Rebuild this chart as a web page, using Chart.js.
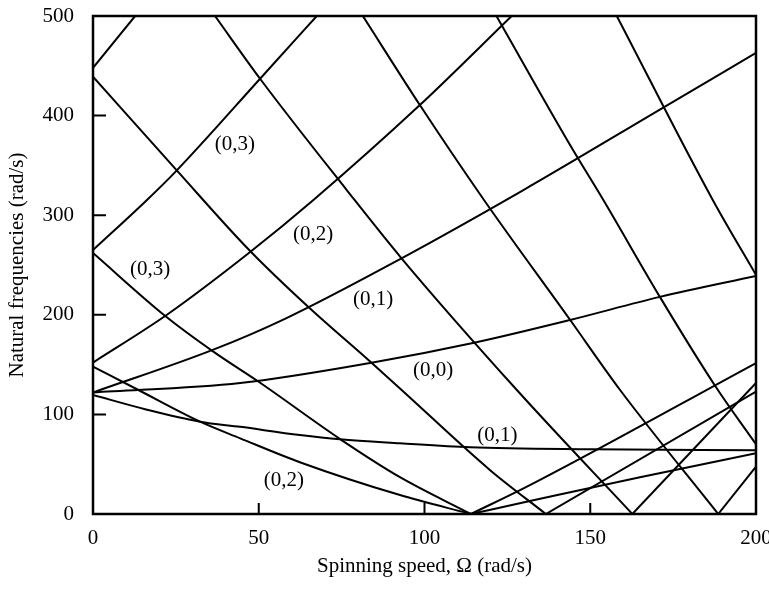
<!DOCTYPE html>
<html>
<head>
<meta charset="utf-8">
<script src="https://cdn.jsdelivr.net/npm/chart.js@4/dist/chart.umd.min.js"></script>
<style>
  html, body { margin: 0; padding: 0; background: #fff; }
  #wrap { width: 769px; height: 589px; }
</style>
</head>
<body>
<div id="wrap"><canvas id="freqChart" width="769" height="589"></canvas></div>
<script>
// Axis ticks
var xTicks = [0, 50, 100, 150, 200];
var yTicks = [0, 100, 200, 300, 400, 500];

// Forward (rising) branches
var fwd00X = [0, 44.4, 83.6, 114.6, 143.9, 171, 200];
var fwd00Y = [122, 131.5, 151.6, 171.7, 194.8, 218, 239];
var fwd01X = [0, 36.3, 57.9, 93.2, 129.7, 171, 200];
var fwd01Y = [122, 165, 196, 257, 325, 406, 463];
var fwd02X = [0, 22.3, 47.4, 66.4, 98.6, 126.3];
var fwd02Y = [152, 200, 263, 315, 410.6, 500];
var fwd03X = [0, 16.2, 25, 50.4, 67.5];
var fwd03Y = [265, 315, 344, 437, 500];
var fwd04X = [0, 12.7];
var fwd04Y = [448, 500];

// Backward (falling) branches, and their reflected part after the critical speed
var bwd01X = [0, 16, 32.3, 44.4, 62.4, 74.5, 92.6, 113.7, 150, 200];
var bwd01Y = [119.5, 105, 92.7, 87.5, 79.3, 75, 71, 67, 65, 64];
var bwd02X = [0, 13.7, 32.3, 44.4, 62.4, 92.6, 114];
var bwd02Y = [148, 124.5, 92.7, 76, 52, 19, 0];
var ref02X = [114, 131.8, 165, 200];
var ref02Y = [0, 13, 37, 61];
var bwd03X = [0, 22.1, 36.3, 50.3, 75.1, 92.6, 114];
var bwd03Y = [262, 198, 163, 132, 74, 37, 0];
var ref03X = [114, 131.8, 200];
var ref03Y = [0, 29, 151.6];
var bwd04X = [0, 25, 47.4, 64.9, 83.6, 92.6, 119.8, 136.6];
var bwd04Y = [439, 346, 264, 208, 153, 126, 44, 0];
var ref04X = [136.6, 200];
var ref04Y = [0, 122.8];
var bwd05X = [36.8, 50.4, 76.6, 93, 128, 162.7];
var bwd05Y = [500, 437, 325, 257, 124, 0];
var ref05X = [162.7, 200];
var ref05Y = [0, 131.5];
var bwd06X = [81.4, 98.6, 118, 143.9, 159, 188.6];
var bwd06Y = [500, 410.6, 315, 195, 124.5, 0];
var ref06X = [188.6, 200];
var ref06Y = [0, 47.5];
var bwd07X = [121.7, 144, 154, 171, 188, 200];
var bwd07Y = [500, 370, 315, 218, 127, 70];
var bwd08X = [158, 187, 200];
var bwd08Y = [500, 315, 240];

// Mode labels
var labelText = ['(0,3)', '(0,3)', '(0,2)', '(0,1)', '(0,0)', '(0,1)', '(0,2)'];
var labelX = [42.8, 17.2, 66.4, 84.5, 102.6, 122, 57.6];
var labelY = [370.5, 245, 281, 215, 143.6, 79, 34];

var curves = [
  [fwd00X, fwd00Y], [fwd01X, fwd01Y], [fwd02X, fwd02Y], [fwd03X, fwd03Y], [fwd04X, fwd04Y],
  [bwd01X, bwd01Y], [bwd02X, bwd02Y], [ref02X, ref02Y], [bwd03X, bwd03Y], [ref03X, ref03Y],
  [bwd04X, bwd04Y], [ref04X, ref04Y], [bwd05X, bwd05Y], [ref05X, ref05Y],
  [bwd06X, bwd06Y], [ref06X, ref06Y], [bwd07X, bwd07Y], [bwd08X, bwd08Y]
];

var serif = '"Liberation Serif", "Times New Roman", serif';
var fontSize = 21;

var datasets = curves.map(function(c) {
  return {
    data: c[0].map(function(x, i) { return { x: x, y: c[1][i] }; }),
    showLine: true,
    borderColor: '#000',
    borderWidth: 2,
    pointRadius: 0,
    cubicInterpolationMode: 'monotone'
  };
});

// Box, inward tick marks and mode labels
var framePlugin = {
  id: 'frame',
  afterDatasetsDraw: function(chart) {
    var ctx = chart.ctx, a = chart.chartArea;
    var xs = chart.scales.x, ys = chart.scales.y;
    ctx.save();
    ctx.strokeStyle = '#000';
    ctx.lineWidth = 2;
    ctx.beginPath();
    xTicks.slice(1, -1).forEach(function(v) {
      var px = xs.getPixelForValue(v);
      ctx.moveTo(px, a.bottom);
      ctx.lineTo(px, a.bottom - 11);
    });
    yTicks.slice(1, -1).forEach(function(v) {
      var py = ys.getPixelForValue(v);
      ctx.moveTo(a.left, py);
      ctx.lineTo(a.left + 13, py);
    });
    ctx.stroke();
    ctx.lineWidth = 2.5;
    ctx.strokeRect(a.left, a.top, a.right - a.left, a.bottom - a.top);

    ctx.fillStyle = '#000';
    ctx.font = fontSize + 'px ' + serif;
    ctx.textAlign = 'center';
    ctx.textBaseline = 'middle';
    labelText.forEach(function(t, i) {
      ctx.fillText(t, xs.getPixelForValue(labelX[i]), ys.getPixelForValue(labelY[i]));
    });
    ctx.restore();
  }
};

new Chart(document.getElementById('freqChart'), {
  type: 'scatter',
  data: { datasets: datasets },
  options: {
    responsive: false,
    animation: false,
    layout: { padding: { top: 16, right: 13, left: 0, bottom: 0 } },
    plugins: { legend: { display: false }, tooltip: { enabled: false } },
    scales: {
      x: {
        type: 'linear',
        min: 0,
        max: 200,
        afterBuildTicks: function(s) { s.ticks = xTicks.map(function(v) { return { value: v }; }); },
        afterFit: function(s) { s.height = 75; s.paddingLeft = 0; s.paddingRight = 0; },
        grid: { display: false, drawTicks: false },
        border: { display: false },
        ticks: { color: '#000', padding: 12, font: { family: serif, size: fontSize } },
        title: {
          display: true,
          text: 'Spinning speed, Ω (rad/s)',
          color: '#000',
          font: { family: serif, size: fontSize },
          padding: { top: 0, bottom: 10 }
        }
      },
      y: {
        type: 'linear',
        min: 0,
        max: 500,
        afterBuildTicks: function(s) { s.ticks = yTicks.map(function(v) { return { value: v }; }); },
        afterFit: function(s) { s.width = 93; s.paddingTop = 0; s.paddingBottom = 0; },
        grid: { display: false, drawTicks: false },
        border: { display: false },
        ticks: { color: '#000', padding: 19, font: { family: serif, size: fontSize } },
        title: {
          display: true,
          text: 'Natural frequencies (rad/s)',
          color: '#000',
          font: { family: serif, size: fontSize },
          padding: { top: 5, bottom: 0 }
        }
      }
    }
  },
  plugins: [framePlugin]
});
</script>
</body>
</html>
